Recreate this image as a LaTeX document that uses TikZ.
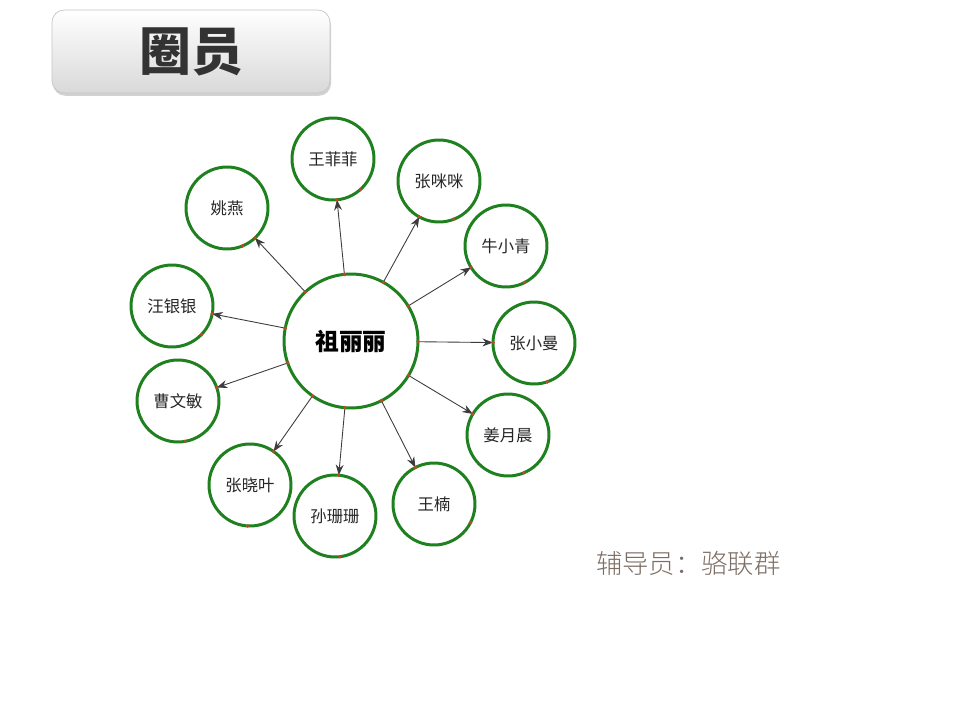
\documentclass[tikz,border=0pt]{standalone}
\usepackage{fontspec}
\setmainfont{Noto Sans CJK SC}
\newfontfamily\tutorfont{Noto Sans CJK SC Light}
\usetikzlibrary{arrows.meta,shadows}
\definecolor{ringgreen}{RGB}{30,128,30}
\definecolor{markred}{RGB}{178,78,40}
\definecolor{linkgray}{RGB}{60,60,60}
\definecolor{tutorgray}{RGB}{125,110,100}
\tikzset{
  member/.style={circle,draw=ringgreen,line width=1.7pt,outer sep=0pt,inner sep=0pt,
    minimum size=1.64cm,text=black!85,font=\fontsize{9.3}{11}\selectfont},
  leader/.style={member,minimum size=2.68cm,text=black,font=\fontsize{13.5}{15}\selectfont\bfseries},
  link/.style={-{Stealth[length=6pt,width=4.5pt]},draw=linkgray,line width=0.5pt},
  dot/.style={circle,fill=markred,inner sep=0pt,minimum size=2.2pt}
}

\begin{document}
\begin{tikzpicture}[x=0.02cm,y=-0.02cm]
	\fill[white] (0,0) rectangle (960,720);
	% title
	\shade[rounded corners=7pt,top color=white,bottom color=gray!30,draw=gray!45,
	  drop shadow={opacity=0.35,shadow xshift=0.6pt,shadow yshift=-1.6pt}]
	  (52,10) rectangle (330,93);
	\node[text=black!80,font=\fontsize{29.5}{32}\selectfont\bfseries] (title) at (191,52) {圈员};
	% circles
	\node[leader] (zll) at (351,341) {祖丽丽};
	\node[member] (wff) at (333,159) {王菲菲};
	\node[member] (zmm) at (439,181) {张咪咪};
	\node[member] (nxq) at (506,246) {牛小青};
	\node[member] (zxm) at (534,343) {张小曼};
	\node[member] (jyc) at (508,435) {姜月晨};
	\node[member] (wn)  at (434,504) {王楠};
	\node[member] (sss) at (335,516) {孙珊珊};
	\node[member] (zxy) at (250,485) {张晓叶};
	\node[member] (cwm) at (178,401) {曹文敏};
	\node[member] (wyy) at (172,306) {汪银银};
	\node[member] (yy)  at (227,208) {姚燕};
	% links
	\foreach \m in {wff,zmm,nxq,zxm,jyc,wn,sss,zxy,cwm,wyy,yy}
	  \draw[link] (zll) -- (\m) node[pos=0,dot]{} node[pos=1,dot]{};
	% marks on the rings
	\foreach \m/\a in {wff/-48,zmm/-69,nxq/-63,zxm/-71,jyc/-67,wn/-27,sss/-83,zxy/-93,cwm/-80,wyy/-44,yy/-68}
	  \node[dot] at (\m.\a) {};
	% tutor
	\node[text=tutorgray,font=\fontsize{15}{18}\selectfont\tutorfont,anchor=west] (tutor) at (590,563) {辅导员：骆联群};
\end{tikzpicture}
\end{document}
